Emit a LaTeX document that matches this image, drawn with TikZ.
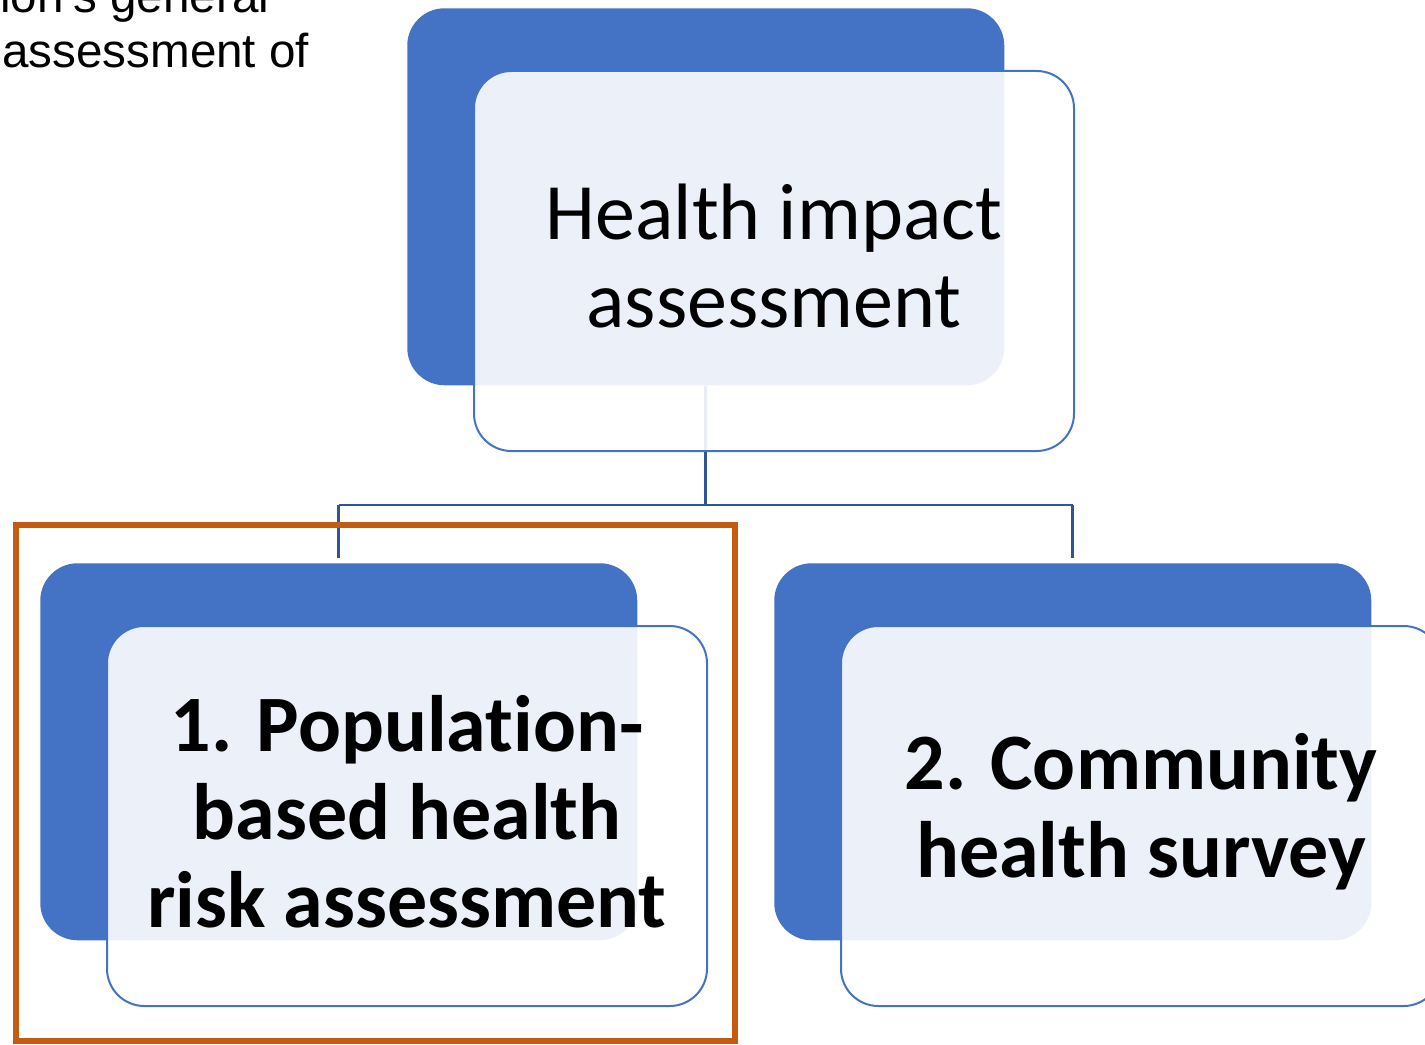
\documentclass[tikz,border=0pt]{standalone}
\usepackage{fontspec}
\setmainfont{Carlito}[Ligatures=CommonOff]
\newfontfamily\arialf{Liberation Sans}
\definecolor{boxblue}{HTML}{4472C4}
\definecolor{connblue}{HTML}{2F5597}
\definecolor{frameorange}{HTML}{C55A11}
\tikzset{
  darkbox/.style={rectangle, rounded corners=28pt, fill=boxblue, draw=none,
    minimum width=447.75pt, minimum height=282.75pt, inner sep=0pt, anchor=north west},
  lightbox/.style={rectangle, rounded corners=28pt, fill=white, fill opacity=0.9,
    draw=boxblue, line width=1.5pt,
    minimum width=450pt, minimum height=285pt, inner sep=0pt, anchor=north west},
  boxtext/.style={align=center, inner sep=0pt, font=\fontsize{60}{66}\selectfont},
  boldtext/.style={boxtext, font=\bfseries\fontsize{60}{66}\selectfont},
  conn/.style={draw=connblue, line width=2pt},
  sidetext/.style={anchor=base west, inner sep=0pt, font=\arialf\fontsize{35.7}{41}\selectfont}
}
\begin{document}
\begin{tikzpicture}[x=0.75pt,y=-0.75pt]
\clip (0,0) rectangle (1425,1045);
\fill[white] (0,0) rectangle (1425,1045);

% side text (cut off at the page edge, as in the reference)
\node[sidetext] (side1) at (0,13) {ion’s general};
\node[sidetext] (side2) at (2,68) {assessment of};

% dark boxes
\node[darkbox] (topdark) at (407,8) {};
\node[darkbox] (leftdark) at (40,563) {};
\node[darkbox] (rightdark) at (774,563) {};

% connectors
\coordinate (bus) at (0,505);
\draw[conn] (topdark.south) -- (topdark.south |- bus);
\draw[conn] (leftdark.north |- bus) -- (rightdark.north |- bus);
\draw[conn] (leftdark.north |- bus) -- ([yshift=3.75pt]leftdark.north);
\draw[conn] (rightdark.north |- bus) -- ([yshift=3.75pt]rightdark.north);

% light boxes
\node[lightbox] (toplight) at (473,70) {};
\node[lightbox] (leftlight) at (106,625) {};
\node[lightbox] (rightlight) at (840,625) {};

% texts
\node[boxtext] (toptext) at ([yshift=3.5pt]toplight.center) {Health impact\\assessment};
\node[boldtext] (lefttext) at ([yshift=3.5pt]leftlight.center) {1. Population-\\based health\\risk assessment};
\node[boldtext] (righttext) at ([yshift=3.5pt]rightlight.center) {2. Community\\health survey};

% orange highlight frame
\draw[frameorange, line width=4pt] (16,525) rectangle (735,1041);
\end{tikzpicture}
\end{document}
